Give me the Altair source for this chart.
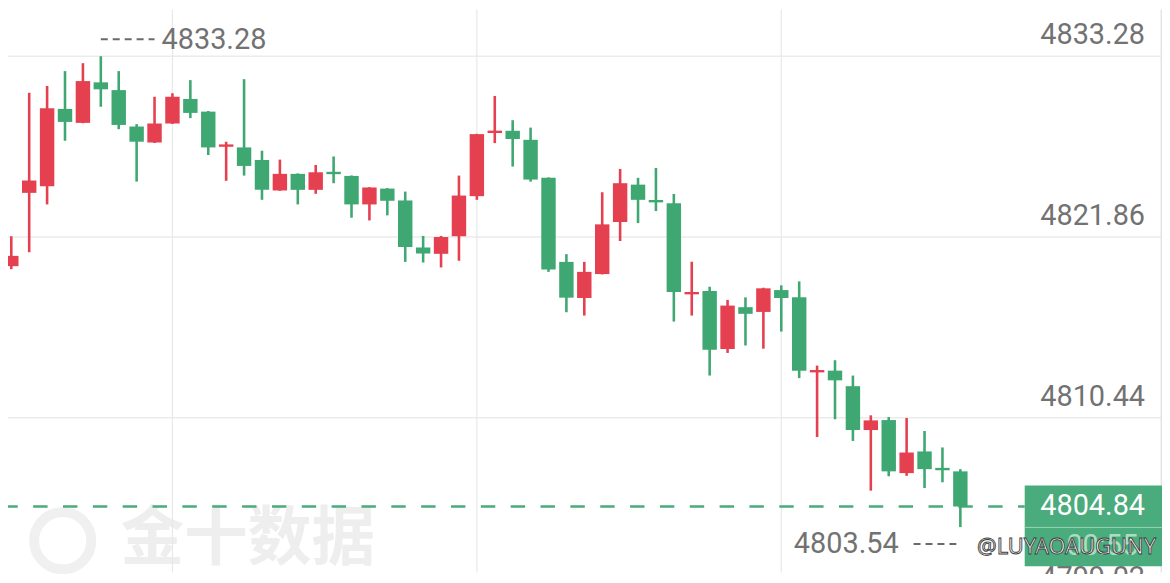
import altair as alt
import pandas as pd

# ---------------- data ----------------
candle_idx = list(range(54))
opens = [4820.02, 4824.65, 4825.07, 4829.95, 4829.07, 4831.63, 4831.14, 4828.84, 4827.83, 4829.03,
         4830.58, 4829.78, 4827.56, 4827.52, 4826.73, 4824.80, 4825.85, 4824.84, 4825.98, 4825.72,
         4823.92, 4824.92, 4824.17, 4821.20, 4820.80, 4821.91, 4824.44, 4828.43, 4828.57, 4828.00,
         4825.60, 4820.29, 4818.01, 4819.52, 4822.81, 4825.17, 4824.20, 4824.00, 4818.24, 4818.45,
         4814.79, 4817.43, 4817.13, 4818.51, 4818.05, 4813.31, 4813.42, 4812.44, 4809.67, 4810.30,
         4806.95, 4808.32, 4807.28, 4807.06]
highs = [4821.91, 4830.97, 4831.40, 4832.34, 4832.84, 4833.28, 4832.34, 4828.99, 4830.72, 4830.94,
         4831.77, 4829.82, 4827.88, 4831.83, 4827.31, 4826.75, 4825.88, 4826.41, 4826.95, 4825.75,
         4825.01, 4824.95, 4824.73, 4821.93, 4821.93, 4825.74, 4828.38, 4830.77, 4829.24, 4828.77,
         4825.63, 4820.78, 4820.29, 4824.69, 4826.16, 4825.60, 4826.22, 4824.58, 4820.30, 4818.72,
         4817.89, 4818.05, 4818.66, 4818.81, 4819.06, 4813.74, 4814.08, 4813.11, 4810.60, 4810.49,
         4810.43, 4809.61, 4808.57, 4807.20]
lows = [4819.83, 4820.90, 4823.92, 4827.94, 4829.05, 4830.09, 4828.67, 4825.36, 4827.80, 4829.00,
        4829.37, 4827.04, 4825.41, 4825.74, 4824.21, 4824.78, 4823.92, 4824.59, 4825.26, 4823.08,
        4822.91, 4823.23, 4820.29, 4820.25, 4819.94, 4820.36, 4824.21, 4827.79, 4826.31, 4825.36,
        4819.66, 4817.11, 4816.90, 4819.50, 4821.61, 4822.74, 4823.50, 4816.52, 4816.90, 4813.11,
        4814.54, 4815.01, 4814.81, 4815.89, 4812.95, 4809.23, 4810.35, 4808.98, 4805.84, 4806.75,
        4806.78, 4806.01, 4806.37, 4803.54]
closes = [4820.67, 4825.43, 4829.99, 4829.13, 4831.71, 4831.19, 4828.94, 4827.88, 4829.03, 4830.72,
          4829.70, 4827.52, 4827.71, 4826.35, 4824.84, 4825.85, 4824.84, 4825.95, 4825.83, 4823.92,
          4824.99, 4824.15, 4821.23, 4820.82, 4821.86, 4824.48, 4828.36, 4828.58, 4828.05, 4825.49,
          4819.81, 4818.03, 4819.66, 4822.66, 4825.26, 4824.21, 4824.05, 4818.39, 4818.39, 4814.74,
          4817.53, 4817.01, 4818.62, 4818.01, 4813.42, 4813.46, 4812.81, 4809.67, 4810.28, 4807.06,
          4808.25, 4807.20, 4807.13, 4804.84]

grid_prices = [4833.28, 4821.86, 4810.44, 4799.02]
grid_labels = ["4833.28", "4821.86", "4810.44", "4799.02"]
vgrid_idx = [9, 26, 43]

high_idx, high_price, high_label = 5, 4833.28, "4833.28"
low_idx, low_price, low_label = 53, 4803.54, "4803.54"
last_price, last_label, countdown = 4804.84, "4804.84", "00:55"
watermark_cn = "金十数据"
watermark_user = "@LUYAOAUGUNY"

# ---------------- styling ----------------
W, H = 1160, 566
RED = "#e5404f"
GREEN = "#3fa872"
BOX_GREEN = "#4aab7c"
GRID = "#ebebeb"
TXT = "#727272"
FONT = "Roboto"

df = pd.DataFrame({"i": candle_idx, "open": opens, "high": highs, "low": lows, "close": closes})
df["dir"] = ["up" if c >= o else "down" for o, c in zip(opens, closes)]

xs = alt.Scale(domain=[-0.1833, 64.261], nice=False, zero=False, padding=0)
ys = alt.Scale(domain=[4800.67, 4836.233], nice=False, zero=False, padding=0)
col = alt.Color("dir:N", scale=alt.Scale(domain=["up", "down"], range=[RED, GREEN]), legend=None)

grid_df = pd.DataFrame({"p": grid_prices, "label": grid_labels})
vgrid_df = pd.DataFrame({"i": vgrid_idx})
hi_df = pd.DataFrame({"i": [high_idx], "p": [high_price], "label": [high_label]})
lo_df = pd.DataFrame({"i": [low_idx], "p": [low_price], "label": [low_label]})
last_df = pd.DataFrame({"p": [last_price], "label": [last_label], "cd": [countdown]})
wm_df = pd.DataFrame({"t": [watermark_cn], "u": [watermark_user]})

# watermark (background)
wm_ring = alt.Chart(wm_df).mark_point(shape="circle", filled=False, size=3300, strokeWidth=10,
                                      color="#f0f0f0", opacity=1).encode(
    x=alt.value(55), y=alt.value(534))
wm_text = alt.Chart(wm_df).mark_text(font="Noto Sans CJK SC", fontSize=64, fontWeight="bold",
                                     color="#eeeeee", align="left", baseline="middle").encode(
    x=alt.value(113), y=alt.value(533), text="t:N")

# grid
hgrid = alt.Chart(grid_df).mark_rule(color=GRID, strokeWidth=1.5).encode(
    y=alt.Y("p:Q", scale=ys, axis=None))
vgrid = alt.Chart(vgrid_df).mark_rule(color="#e8e8e8", strokeWidth=1.2).encode(
    x=alt.X("i:Q", scale=xs, axis=None))
rborder = alt.Chart(wm_df).mark_rule(color="#e4e4e4", strokeWidth=2).encode(
    x=alt.value(W - 0.5), y=alt.value(0), y2=alt.value(H))

# axis labels
axis_lbl = alt.Chart(grid_df).mark_text(font=FONT, fontSize=29, color=TXT, align="right",
                                        baseline="alphabetic", dy=-12).encode(
    x=alt.value(W - 17), y=alt.Y("p:Q", scale=ys, axis=None), text="label:N")

# current price dashed line
last_line = alt.Chart(last_df).mark_rule(color=BOX_GREEN, strokeWidth=2.5, strokeDash=[14.5, 15.5],
                                         strokeDashOffset=4.7).encode(
    y=alt.Y("p:Q", scale=ys, axis=None), x=alt.value(0), x2=alt.value(W - 138))

# candles
wicks = alt.Chart(df).mark_rule(strokeWidth=2.6).encode(
    x=alt.X("i:Q", scale=xs, axis=None),
    y=alt.Y("low:Q", scale=ys, axis=None), y2="high:Q", color=col)
bodies = alt.Chart(df).mark_bar(size=14.5).encode(
    x=alt.X("i:Q", scale=xs, axis=None),
    y=alt.Y("open:Q", scale=ys, axis=None), y2="close:Q", color=col)

# high / low markers
hi_rule = alt.Chart(hi_df).mark_rule(color="#6a6a6a", strokeWidth=2, strokeDash=[7, 5],
                                     yOffset=-17, x2Offset=54).encode(
    x=alt.X("i:Q", scale=xs, axis=None), x2="i:Q", y=alt.Y("p:Q", scale=ys, axis=None))
hi_txt = alt.Chart(hi_df).mark_text(font=FONT, fontSize=29, color=TXT, align="left",
                                    baseline="middle", dx=61, dy=-16).encode(
    x=alt.X("i:Q", scale=xs, axis=None), y=alt.Y("p:Q", scale=ys, axis=None), text="label:N")
lo_rule = alt.Chart(lo_df).mark_rule(color="#6a6a6a", strokeWidth=2, strokeDash=[7, 5],
                                     yOffset=17, xOffset=-47).encode(
    x=alt.X("i:Q", scale=xs, axis=None), x2="i:Q", y=alt.Y("p:Q", scale=ys, axis=None))
lo_txt = alt.Chart(lo_df).mark_text(font=FONT, fontSize=29, color=TXT, align="right",
                                    baseline="middle", dx=-62, dy=17).encode(
    x=alt.X("i:Q", scale=xs, axis=None), y=alt.Y("p:Q", scale=ys, axis=None), text="label:N")

# current price box
box = alt.Chart(last_df).mark_rect(color=BOX_GREEN, yOffset=-21, y2Offset=60).encode(
    y=alt.Y("p:Q", scale=ys, axis=None), y2="p:Q", x=alt.value(W - 138), x2=alt.value(W))
box_sep = alt.Chart(last_df).mark_rule(color="#9ad6b6", strokeWidth=1, yOffset=21).encode(
    y=alt.Y("p:Q", scale=ys, axis=None), x=alt.value(W - 138), x2=alt.value(W))
box_txt = alt.Chart(last_df).mark_text(font=FONT, fontSize=29, color="#ffffff", align="right",
                                       baseline="middle").encode(
    x=alt.value(W - 17), y=alt.Y("p:Q", scale=ys, axis=None), text="label:N")
box_cd = alt.Chart(last_df).mark_text(font=FONT, fontSize=29, color="#a9dec0", align="center",
                                      baseline="middle", dy=40).encode(
    x=alt.value(W - 60), y=alt.Y("p:Q", scale=ys, axis=None), text="cd:N")

# user watermark on top
wm_user = alt.Chart(wm_df).mark_text(font="Noto Sans", fontSize=22, color="#ffffff", stroke="#3a3a3a",
                                     strokeWidth=0.9, align="left", baseline="middle").encode(
    x=alt.value(974), y=alt.value(540), text="u:N")

chart = alt.layer(
    wm_ring, wm_text, hgrid, vgrid, rborder, axis_lbl, last_line, wicks, bodies,
    hi_rule, hi_txt, lo_rule, lo_txt, box, box_sep, box_txt, box_cd, wm_user
).properties(
    width=W, height=H, autosize=alt.AutoSizeParams(type="none"), padding=0, background="white"
).configure_view(stroke=None)

chart.save("out.html", embed_options={"renderer": "svg", "actions": False})
